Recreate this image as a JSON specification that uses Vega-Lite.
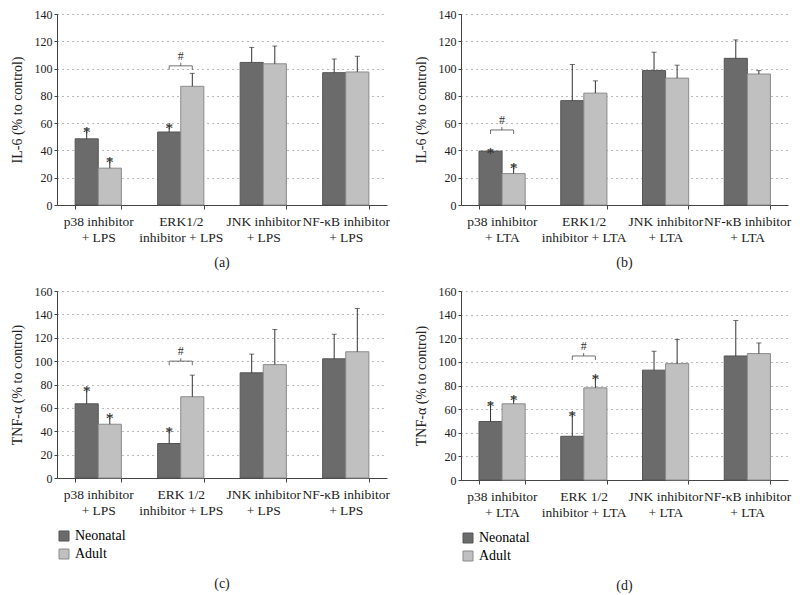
{
  "$schema": "https://vega.github.io/schema/vega-lite/v6.json",
  "padding": {"left": 10, "top": 8, "right": 4, "bottom": 4},
  "background": "white",
  "data": {"values": [
    {"kind": "bar", "panel": "a", "cat": "p38 inhibitor|+ LPS", "group": "Neonatal", "value": 48.5, "err": 56, "star": true},
    {"kind": "bar", "panel": "a", "cat": "p38 inhibitor|+ LPS", "group": "Adult", "value": 27, "err": 34, "star": true},
    {"kind": "bar", "panel": "a", "cat": "ERK1/2|inhibitor + LPS", "group": "Neonatal", "value": 53.5, "err": 58.5, "star": true},
    {"kind": "bar", "panel": "a", "cat": "ERK1/2|inhibitor + LPS", "group": "Adult", "value": 87, "err": 96.5, "star": false},
    {"kind": "bar", "panel": "a", "cat": "JNK inhibitor|+ LPS", "group": "Neonatal", "value": 104.5, "err": 115.5, "star": false},
    {"kind": "bar", "panel": "a", "cat": "JNK inhibitor|+ LPS", "group": "Adult", "value": 103.5, "err": 116.5, "star": false},
    {"kind": "bar", "panel": "a", "cat": "NF-κB inhibitor|+ LPS", "group": "Neonatal", "value": 97, "err": 107, "star": false},
    {"kind": "bar", "panel": "a", "cat": "NF-κB inhibitor|+ LPS", "group": "Adult", "value": 97.5, "err": 109, "star": false},
    {"kind": "bracket", "panel": "a", "cat": "ERK1/2|inhibitor + LPS", "group": "Neonatal", "value": 102},
    {"kind": "bracket", "panel": "a", "cat": "ERK1/2|inhibitor + LPS", "group": "Adult", "value": 102},

    {"kind": "bar", "panel": "b", "cat": "p38 inhibitor|+ LTA", "group": "Neonatal", "value": 39.5, "err": 40.5, "star": true},
    {"kind": "bar", "panel": "b", "cat": "p38 inhibitor|+ LTA", "group": "Adult", "value": 23, "err": 29.5, "star": true},
    {"kind": "bar", "panel": "b", "cat": "ERK1/2|inhibitor + LTA", "group": "Neonatal", "value": 76.5, "err": 103, "star": false},
    {"kind": "bar", "panel": "b", "cat": "ERK1/2|inhibitor + LTA", "group": "Adult", "value": 82, "err": 91, "star": false},
    {"kind": "bar", "panel": "b", "cat": "JNK inhibitor|+ LTA", "group": "Neonatal", "value": 98.5, "err": 112, "star": false},
    {"kind": "bar", "panel": "b", "cat": "JNK inhibitor|+ LTA", "group": "Adult", "value": 93, "err": 102.5, "star": false},
    {"kind": "bar", "panel": "b", "cat": "NF-κB inhibitor|+ LTA", "group": "Neonatal", "value": 107.5, "err": 121, "star": false},
    {"kind": "bar", "panel": "b", "cat": "NF-κB inhibitor|+ LTA", "group": "Adult", "value": 96, "err": 98.5, "star": false},
    {"kind": "bracket", "panel": "b", "cat": "p38 inhibitor|+ LTA", "group": "Neonatal", "value": 55},
    {"kind": "bracket", "panel": "b", "cat": "p38 inhibitor|+ LTA", "group": "Adult", "value": 55},

    {"kind": "bar", "panel": "c", "cat": "p38 inhibitor|+ LPS", "group": "Neonatal", "value": 63.5, "err": 77, "star": true},
    {"kind": "bar", "panel": "c", "cat": "p38 inhibitor|+ LPS", "group": "Adult", "value": 46, "err": 53.5, "star": true},
    {"kind": "bar", "panel": "c", "cat": "ERK 1/2|inhibitor + LPS", "group": "Neonatal", "value": 29.5, "err": 42, "star": true},
    {"kind": "bar", "panel": "c", "cat": "ERK 1/2|inhibitor + LPS", "group": "Adult", "value": 69.5, "err": 88, "star": false},
    {"kind": "bar", "panel": "c", "cat": "JNK inhibitor|+ LPS", "group": "Neonatal", "value": 90, "err": 106, "star": false},
    {"kind": "bar", "panel": "c", "cat": "JNK inhibitor|+ LPS", "group": "Adult", "value": 97, "err": 127, "star": false},
    {"kind": "bar", "panel": "c", "cat": "NF-κB inhibitor|+ LPS", "group": "Neonatal", "value": 102, "err": 123, "star": false},
    {"kind": "bar", "panel": "c", "cat": "NF-κB inhibitor|+ LPS", "group": "Adult", "value": 108, "err": 145, "star": false},
    {"kind": "bracket", "panel": "c", "cat": "ERK 1/2|inhibitor + LPS", "group": "Neonatal", "value": 100},
    {"kind": "bracket", "panel": "c", "cat": "ERK 1/2|inhibitor + LPS", "group": "Adult", "value": 100},

    {"kind": "bar", "panel": "d", "cat": "p38 inhibitor|+ LTA", "group": "Neonatal", "value": 49.5, "err": 65.5, "star": true},
    {"kind": "bar", "panel": "d", "cat": "p38 inhibitor|+ LTA", "group": "Adult", "value": 64.5, "err": 70.5, "star": true},
    {"kind": "bar", "panel": "d", "cat": "ERK 1/2|inhibitor + LTA", "group": "Neonatal", "value": 37, "err": 57, "star": true},
    {"kind": "bar", "panel": "d", "cat": "ERK 1/2|inhibitor + LTA", "group": "Adult", "value": 78, "err": 88, "star": true},
    {"kind": "bar", "panel": "d", "cat": "JNK inhibitor|+ LTA", "group": "Neonatal", "value": 93, "err": 109, "star": false},
    {"kind": "bar", "panel": "d", "cat": "JNK inhibitor|+ LTA", "group": "Adult", "value": 98.5, "err": 119, "star": false},
    {"kind": "bar", "panel": "d", "cat": "NF-κB inhibitor|+ LTA", "group": "Neonatal", "value": 105, "err": 135, "star": false},
    {"kind": "bar", "panel": "d", "cat": "NF-κB inhibitor|+ LTA", "group": "Adult", "value": 107, "err": 116, "star": false},
    {"kind": "bracket", "panel": "d", "cat": "ERK 1/2|inhibitor + LTA", "group": "Neonatal", "value": 105},
    {"kind": "bracket", "panel": "d", "cat": "ERK 1/2|inhibitor + LTA", "group": "Adult", "value": 105}
  ]},
  "vconcat": [
    {
      "hconcat": [
        {
          "width": 330, "height": 191,
          "title": {"text": "(a)", "orient": "bottom", "offset": 12},
          "transform": [{"filter": "datum.panel == 'a'"}],
          "encoding": {"x": {"field": "cat", "type": "nominal", "title": null, "scale": {"domain": ["p38 inhibitor|+ LPS", "ERK1/2|inhibitor + LPS", "JNK inhibitor|+ LPS", "NF-κB inhibitor|+ LPS"], "paddingInner": 0.44, "paddingOuter": 0.22}, "axis": {"labelExpr": "isValid(datum.value) ? split(datum.value, '|') : ''"}}},
          "layer": [
            {"transform": [{"filter": "datum.kind == 'bar'"}], "mark": {"type": "bar", "strokeWidth": 1},
             "encoding": {
               "xOffset": {"field": "group", "type": "nominal", "scale": {"domain": ["Neonatal", "Adult"], "paddingInner": 0}},
               "y": {"field": "value", "type": "quantitative", "title": "IL-6 (% to control)", "scale": {"domain": [0, 140]}, "axis": {"values": [0, 20, 40, 60, 80, 100, 120, 140]}},
               "fill": {"field": "group", "type": "nominal", "scale": {"domain": ["Neonatal", "Adult"], "range": ["#6b6b6b", "#c0c0c0"]}, "legend": null},
               "stroke": {"field": "group", "type": "nominal", "scale": {"domain": ["Neonatal", "Adult"], "range": ["#555555", "#8a8a8a"]}, "legend": null}
             }},
            {"transform": [{"filter": "datum.kind == 'bar'"}], "mark": {"type": "rule", "color": "#333333", "strokeWidth": 1},
             "encoding": {"xOffset": {"field": "group", "type": "nominal", "scale": {"domain": ["Neonatal", "Adult"], "paddingInner": 0}}, "y": {"field": "value", "type": "quantitative", "title": "IL-6 (% to control)", "axis": {"values": [0, 20, 40, 60, 80, 100, 120, 140]}}, "y2": {"field": "err"}}},
            {"transform": [{"filter": "datum.kind == 'bar'"}], "mark": {"type": "tick", "color": "#333333", "thickness": 1, "size": 5},
             "encoding": {"xOffset": {"field": "group", "type": "nominal", "scale": {"domain": ["Neonatal", "Adult"], "paddingInner": 0}}, "y": {"field": "err", "type": "quantitative", "title": "IL-6 (% to control)", "axis": {"values": [0, 20, 40, 60, 80, 100, 120, 140]}}}},
            {"transform": [{"filter": "datum.kind == 'bar' && datum.star"}], "mark": {"type": "text", "text": "*", "fontSize": 16, "baseline": "alphabetic", "dy": 9, "font": "Liberation Serif", "color": "#333333"},
             "encoding": {"xOffset": {"field": "group", "type": "nominal", "scale": {"domain": ["Neonatal", "Adult"], "paddingInner": 0}}, "y": {"field": "err", "type": "quantitative", "title": "IL-6 (% to control)", "axis": {"values": [0, 20, 40, 60, 80, 100, 120, 140]}}}},
            {"transform": [{"filter": "datum.kind == 'bracket' && datum.group == 'Neonatal'"}], "mark": {"type": "tick", "color": "#333333", "thickness": 1, "size": 23},
             "encoding": {"y": {"field": "value", "type": "quantitative", "title": "IL-6 (% to control)", "axis": {"values": [0, 20, 40, 60, 80, 100, 120, 140]}}}},
            {"transform": [{"filter": "datum.kind == 'bracket'"}], "mark": {"type": "tick", "orient": "vertical", "color": "#333333", "thickness": 1, "size": 4, "yOffset": 2},
             "encoding": {"xOffset": {"field": "group", "type": "nominal", "scale": {"domain": ["Neonatal", "Adult"], "paddingInner": 0}}, "y": {"field": "value", "type": "quantitative", "title": "IL-6 (% to control)", "axis": {"values": [0, 20, 40, 60, 80, 100, 120, 140]}}}},
            {"transform": [{"filter": "datum.kind == 'bracket' && datum.group == 'Neonatal'"}], "mark": {"type": "tick", "orient": "vertical", "color": "#333333", "thickness": 1, "size": 3, "yOffset": -1.5},
             "encoding": {"y": {"field": "value", "type": "quantitative", "title": "IL-6 (% to control)", "axis": {"values": [0, 20, 40, 60, 80, 100, 120, 140]}}}},
            {"transform": [{"filter": "datum.kind == 'bracket' && datum.group == 'Neonatal'"}], "mark": {"type": "text", "text": "#", "fontSize": 12, "baseline": "bottom", "dy": -3, "font": "Liberation Serif", "color": "#333333"},
             "encoding": {"y": {"field": "value", "type": "quantitative", "title": "IL-6 (% to control)", "axis": {"values": [0, 20, 40, 60, 80, 100, 120, 140]}}}}
          ]
        },
        {
          "width": 327, "height": 191,
          "title": {"text": "(b)", "orient": "bottom", "offset": 12},
          "transform": [{"filter": "datum.panel == 'b'"}],
          "encoding": {"x": {"field": "cat", "type": "nominal", "title": null, "scale": {"domain": ["p38 inhibitor|+ LTA", "ERK1/2|inhibitor + LTA", "JNK inhibitor|+ LTA", "NF-κB inhibitor|+ LTA"], "paddingInner": 0.44, "paddingOuter": 0.22}, "axis": {"labelExpr": "isValid(datum.value) ? split(datum.value, '|') : ''"}}},
          "layer": [
            {"transform": [{"filter": "datum.kind == 'bar'"}], "mark": {"type": "bar", "strokeWidth": 1},
             "encoding": {
               "xOffset": {"field": "group", "type": "nominal", "scale": {"domain": ["Neonatal", "Adult"], "paddingInner": 0}},
               "y": {"field": "value", "type": "quantitative", "title": "IL-6 (% to control)", "scale": {"domain": [0, 140]}, "axis": {"values": [0, 20, 40, 60, 80, 100, 120, 140]}},
               "fill": {"field": "group", "type": "nominal", "scale": {"domain": ["Neonatal", "Adult"], "range": ["#6b6b6b", "#c0c0c0"]}, "legend": null},
               "stroke": {"field": "group", "type": "nominal", "scale": {"domain": ["Neonatal", "Adult"], "range": ["#555555", "#8a8a8a"]}, "legend": null}
             }},
            {"transform": [{"filter": "datum.kind == 'bar'"}], "mark": {"type": "rule", "color": "#333333", "strokeWidth": 1},
             "encoding": {"xOffset": {"field": "group", "type": "nominal", "scale": {"domain": ["Neonatal", "Adult"], "paddingInner": 0}}, "y": {"field": "value", "type": "quantitative", "title": "IL-6 (% to control)", "axis": {"values": [0, 20, 40, 60, 80, 100, 120, 140]}}, "y2": {"field": "err"}}},
            {"transform": [{"filter": "datum.kind == 'bar'"}], "mark": {"type": "tick", "color": "#333333", "thickness": 1, "size": 5},
             "encoding": {"xOffset": {"field": "group", "type": "nominal", "scale": {"domain": ["Neonatal", "Adult"], "paddingInner": 0}}, "y": {"field": "err", "type": "quantitative", "title": "IL-6 (% to control)", "axis": {"values": [0, 20, 40, 60, 80, 100, 120, 140]}}}},
            {"transform": [{"filter": "datum.kind == 'bar' && datum.star"}], "mark": {"type": "text", "text": "*", "fontSize": 16, "baseline": "alphabetic", "dy": 9, "font": "Liberation Serif", "color": "#333333"},
             "encoding": {"xOffset": {"field": "group", "type": "nominal", "scale": {"domain": ["Neonatal", "Adult"], "paddingInner": 0}}, "y": {"field": "err", "type": "quantitative", "title": "IL-6 (% to control)", "axis": {"values": [0, 20, 40, 60, 80, 100, 120, 140]}}}},
            {"transform": [{"filter": "datum.kind == 'bracket' && datum.group == 'Neonatal'"}], "mark": {"type": "tick", "color": "#333333", "thickness": 1, "size": 23},
             "encoding": {"y": {"field": "value", "type": "quantitative", "title": "IL-6 (% to control)", "axis": {"values": [0, 20, 40, 60, 80, 100, 120, 140]}}}},
            {"transform": [{"filter": "datum.kind == 'bracket'"}], "mark": {"type": "tick", "orient": "vertical", "color": "#333333", "thickness": 1, "size": 4, "yOffset": 2},
             "encoding": {"xOffset": {"field": "group", "type": "nominal", "scale": {"domain": ["Neonatal", "Adult"], "paddingInner": 0}}, "y": {"field": "value", "type": "quantitative", "title": "IL-6 (% to control)", "axis": {"values": [0, 20, 40, 60, 80, 100, 120, 140]}}}},
            {"transform": [{"filter": "datum.kind == 'bracket' && datum.group == 'Neonatal'"}], "mark": {"type": "tick", "orient": "vertical", "color": "#333333", "thickness": 1, "size": 3, "yOffset": -1.5},
             "encoding": {"y": {"field": "value", "type": "quantitative", "title": "IL-6 (% to control)", "axis": {"values": [0, 20, 40, 60, 80, 100, 120, 140]}}}},
            {"transform": [{"filter": "datum.kind == 'bracket' && datum.group == 'Neonatal'"}], "mark": {"type": "text", "text": "#", "fontSize": 12, "baseline": "bottom", "dy": -3, "font": "Liberation Serif", "color": "#333333"},
             "encoding": {"y": {"field": "value", "type": "quantitative", "title": "IL-6 (% to control)", "axis": {"values": [0, 20, 40, 60, 80, 100, 120, 140]}}}}
          ]
        }
      ],
      "spacing": 24,
      "resolve": {"scale": {"fill": "independent", "stroke": "independent"}, "legend": {"fill": "independent", "stroke": "independent"}}
    },
    {
      "hconcat": [
        {
          "width": 330, "height": 187,
          "title": {"text": "(c)", "orient": "bottom", "offset": 16},
          "transform": [{"filter": "datum.panel == 'c'"}],
          "encoding": {"x": {"field": "cat", "type": "nominal", "title": null, "scale": {"domain": ["p38 inhibitor|+ LPS", "ERK 1/2|inhibitor + LPS", "JNK inhibitor|+ LPS", "NF-κB inhibitor|+ LPS"], "paddingInner": 0.44, "paddingOuter": 0.22}, "axis": {"labelExpr": "isValid(datum.value) ? split(datum.value, '|') : ''"}}},
          "layer": [
            {"transform": [{"filter": "datum.kind == 'bar'"}], "mark": {"type": "bar", "strokeWidth": 1},
             "encoding": {
               "xOffset": {"field": "group", "type": "nominal", "scale": {"domain": ["Neonatal", "Adult"], "paddingInner": 0}},
               "y": {"field": "value", "type": "quantitative", "title": "TNF-α (% to control)", "scale": {"domain": [0, 160]}, "axis": {"values": [0, 20, 40, 60, 80, 100, 120, 140, 160]}},
               "fill": {"field": "group", "type": "nominal", "scale": {"domain": ["Neonatal", "Adult"], "range": ["#6b6b6b", "#c0c0c0"]}, "legend": {"title": null, "orient": "bottom", "direction": "vertical", "symbolType": "square", "symbolSize": 100, "labelFontSize": 14, "labelFont": "Liberation Serif", "rowPadding": 4, "offset": 12}},
               "stroke": {"field": "group", "type": "nominal", "scale": {"domain": ["Neonatal", "Adult"], "range": ["#555555", "#8a8a8a"]}, "legend": {"title": null, "orient": "bottom", "direction": "vertical", "symbolType": "square", "symbolSize": 100, "labelFontSize": 14, "labelFont": "Liberation Serif", "rowPadding": 4, "offset": 12}}
             }},
            {"transform": [{"filter": "datum.kind == 'bar'"}], "mark": {"type": "rule", "color": "#333333", "strokeWidth": 1},
             "encoding": {"xOffset": {"field": "group", "type": "nominal", "scale": {"domain": ["Neonatal", "Adult"], "paddingInner": 0}}, "y": {"field": "value", "type": "quantitative", "title": "TNF-α (% to control)", "axis": {"values": [0, 20, 40, 60, 80, 100, 120, 140, 160]}}, "y2": {"field": "err"}}},
            {"transform": [{"filter": "datum.kind == 'bar'"}], "mark": {"type": "tick", "color": "#333333", "thickness": 1, "size": 5},
             "encoding": {"xOffset": {"field": "group", "type": "nominal", "scale": {"domain": ["Neonatal", "Adult"], "paddingInner": 0}}, "y": {"field": "err", "type": "quantitative", "title": "TNF-α (% to control)", "axis": {"values": [0, 20, 40, 60, 80, 100, 120, 140, 160]}}}},
            {"transform": [{"filter": "datum.kind == 'bar' && datum.star"}], "mark": {"type": "text", "text": "*", "fontSize": 16, "baseline": "alphabetic", "dy": 9, "font": "Liberation Serif", "color": "#333333"},
             "encoding": {"xOffset": {"field": "group", "type": "nominal", "scale": {"domain": ["Neonatal", "Adult"], "paddingInner": 0}}, "y": {"field": "err", "type": "quantitative", "title": "TNF-α (% to control)", "axis": {"values": [0, 20, 40, 60, 80, 100, 120, 140, 160]}}}},
            {"transform": [{"filter": "datum.kind == 'bracket' && datum.group == 'Neonatal'"}], "mark": {"type": "tick", "color": "#333333", "thickness": 1, "size": 23},
             "encoding": {"y": {"field": "value", "type": "quantitative", "title": "TNF-α (% to control)", "axis": {"values": [0, 20, 40, 60, 80, 100, 120, 140, 160]}}}},
            {"transform": [{"filter": "datum.kind == 'bracket'"}], "mark": {"type": "tick", "orient": "vertical", "color": "#333333", "thickness": 1, "size": 4, "yOffset": 2},
             "encoding": {"xOffset": {"field": "group", "type": "nominal", "scale": {"domain": ["Neonatal", "Adult"], "paddingInner": 0}}, "y": {"field": "value", "type": "quantitative", "title": "TNF-α (% to control)", "axis": {"values": [0, 20, 40, 60, 80, 100, 120, 140, 160]}}}},
            {"transform": [{"filter": "datum.kind == 'bracket' && datum.group == 'Neonatal'"}], "mark": {"type": "tick", "orient": "vertical", "color": "#333333", "thickness": 1, "size": 3, "yOffset": -1.5},
             "encoding": {"y": {"field": "value", "type": "quantitative", "title": "TNF-α (% to control)", "axis": {"values": [0, 20, 40, 60, 80, 100, 120, 140, 160]}}}},
            {"transform": [{"filter": "datum.kind == 'bracket' && datum.group == 'Neonatal'"}], "mark": {"type": "text", "text": "#", "fontSize": 12, "baseline": "bottom", "dy": -3, "font": "Liberation Serif", "color": "#333333"},
             "encoding": {"y": {"field": "value", "type": "quantitative", "title": "TNF-α (% to control)", "axis": {"values": [0, 20, 40, 60, 80, 100, 120, 140, 160]}}}}
          ]
        },
        {
          "width": 327, "height": 189,
          "title": {"text": "(d)", "orient": "bottom", "offset": 16},
          "transform": [{"filter": "datum.panel == 'd'"}],
          "encoding": {"x": {"field": "cat", "type": "nominal", "title": null, "scale": {"domain": ["p38 inhibitor|+ LTA", "ERK 1/2|inhibitor + LTA", "JNK inhibitor|+ LTA", "NF-κB inhibitor|+ LTA"], "paddingInner": 0.44, "paddingOuter": 0.22}, "axis": {"labelExpr": "isValid(datum.value) ? split(datum.value, '|') : ''"}}},
          "layer": [
            {"transform": [{"filter": "datum.kind == 'bar'"}], "mark": {"type": "bar", "strokeWidth": 1},
             "encoding": {
               "xOffset": {"field": "group", "type": "nominal", "scale": {"domain": ["Neonatal", "Adult"], "paddingInner": 0}},
               "y": {"field": "value", "type": "quantitative", "title": "TNF-α (% to control)", "scale": {"domain": [0, 160]}, "axis": {"values": [0, 20, 40, 60, 80, 100, 120, 140, 160]}},
               "fill": {"field": "group", "type": "nominal", "scale": {"domain": ["Neonatal", "Adult"], "range": ["#6b6b6b", "#c0c0c0"]}, "legend": {"title": null, "orient": "bottom", "direction": "vertical", "symbolType": "square", "symbolSize": 100, "labelFontSize": 14, "labelFont": "Liberation Serif", "rowPadding": 4, "offset": 12}},
               "stroke": {"field": "group", "type": "nominal", "scale": {"domain": ["Neonatal", "Adult"], "range": ["#555555", "#8a8a8a"]}, "legend": {"title": null, "orient": "bottom", "direction": "vertical", "symbolType": "square", "symbolSize": 100, "labelFontSize": 14, "labelFont": "Liberation Serif", "rowPadding": 4, "offset": 12}}
             }},
            {"transform": [{"filter": "datum.kind == 'bar'"}], "mark": {"type": "rule", "color": "#333333", "strokeWidth": 1},
             "encoding": {"xOffset": {"field": "group", "type": "nominal", "scale": {"domain": ["Neonatal", "Adult"], "paddingInner": 0}}, "y": {"field": "value", "type": "quantitative", "title": "TNF-α (% to control)", "axis": {"values": [0, 20, 40, 60, 80, 100, 120, 140, 160]}}, "y2": {"field": "err"}}},
            {"transform": [{"filter": "datum.kind == 'bar'"}], "mark": {"type": "tick", "color": "#333333", "thickness": 1, "size": 5},
             "encoding": {"xOffset": {"field": "group", "type": "nominal", "scale": {"domain": ["Neonatal", "Adult"], "paddingInner": 0}}, "y": {"field": "err", "type": "quantitative", "title": "TNF-α (% to control)", "axis": {"values": [0, 20, 40, 60, 80, 100, 120, 140, 160]}}}},
            {"transform": [{"filter": "datum.kind == 'bar' && datum.star"}], "mark": {"type": "text", "text": "*", "fontSize": 16, "baseline": "alphabetic", "dy": 9, "font": "Liberation Serif", "color": "#333333"},
             "encoding": {"xOffset": {"field": "group", "type": "nominal", "scale": {"domain": ["Neonatal", "Adult"], "paddingInner": 0}}, "y": {"field": "err", "type": "quantitative", "title": "TNF-α (% to control)", "axis": {"values": [0, 20, 40, 60, 80, 100, 120, 140, 160]}}}},
            {"transform": [{"filter": "datum.kind == 'bracket' && datum.group == 'Neonatal'"}], "mark": {"type": "tick", "color": "#333333", "thickness": 1, "size": 23},
             "encoding": {"y": {"field": "value", "type": "quantitative", "title": "TNF-α (% to control)", "axis": {"values": [0, 20, 40, 60, 80, 100, 120, 140, 160]}}}},
            {"transform": [{"filter": "datum.kind == 'bracket'"}], "mark": {"type": "tick", "orient": "vertical", "color": "#333333", "thickness": 1, "size": 4, "yOffset": 2},
             "encoding": {"xOffset": {"field": "group", "type": "nominal", "scale": {"domain": ["Neonatal", "Adult"], "paddingInner": 0}}, "y": {"field": "value", "type": "quantitative", "title": "TNF-α (% to control)", "axis": {"values": [0, 20, 40, 60, 80, 100, 120, 140, 160]}}}},
            {"transform": [{"filter": "datum.kind == 'bracket' && datum.group == 'Neonatal'"}], "mark": {"type": "tick", "orient": "vertical", "color": "#333333", "thickness": 1, "size": 3, "yOffset": -1.5},
             "encoding": {"y": {"field": "value", "type": "quantitative", "title": "TNF-α (% to control)", "axis": {"values": [0, 20, 40, 60, 80, 100, 120, 140, 160]}}}},
            {"transform": [{"filter": "datum.kind == 'bracket' && datum.group == 'Neonatal'"}], "mark": {"type": "text", "text": "#", "fontSize": 12, "baseline": "bottom", "dy": -3, "font": "Liberation Serif", "color": "#333333"},
             "encoding": {"y": {"field": "value", "type": "quantitative", "title": "TNF-α (% to control)", "axis": {"values": [0, 20, 40, 60, 80, 100, 120, 140, 160]}}}}
          ]
        }
      ],
      "spacing": 24,
      "resolve": {"scale": {"fill": "independent", "stroke": "independent"}, "legend": {"fill": "independent", "stroke": "independent"}}
    }
  ],
  "spacing": 15,
  "resolve": {"scale": {"fill": "independent", "stroke": "independent"}, "legend": {"fill": "independent", "stroke": "independent"}},
  "config": {
    "font": "Liberation Serif",
    "view": {"stroke": null},
    "title": {"font": "Liberation Serif", "fontSize": 14, "fontWeight": "normal", "color": "#222222"},
    "axis": {"labelFont": "Liberation Serif", "titleFont": "Liberation Serif", "labelColor": "#222222", "titleColor": "#222222", "domainColor": "#444444", "tickColor": "#444444", "titleFontWeight": "normal"},
    "axisY": {"grid": true, "gridDash": [1, 4], "gridColor": "#777777", "labelFontSize": 12, "titleFontSize": 14, "tickSize": 3, "labelPadding": 2, "titlePadding": 10, "labelOverlap": false},
    "axisX": {"grid": false, "labelAngle": 0, "labelFontSize": 13.5, "tickBand": "extent", "tickSize": 4, "labelLineHeight": 16, "labelPadding": 5, "labelOverlap": false, "labelBound": false},
    "legend": {"symbolStrokeWidth": 1}
  }
}
